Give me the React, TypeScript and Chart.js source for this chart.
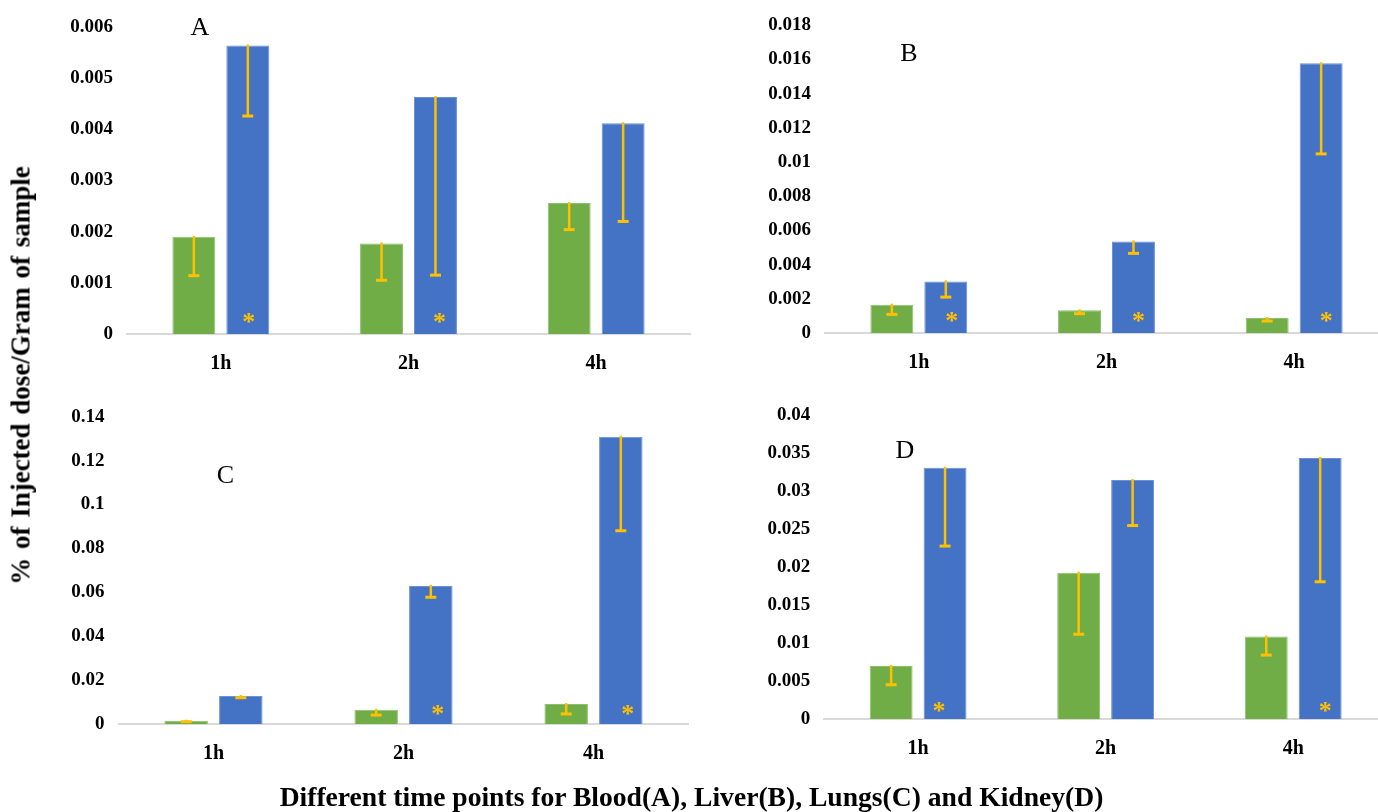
import { useEffect, useRef } from 'react';
import { Chart, registerables } from 'chart.js';

Chart.register(...registerables);

const SERIF = "'Times New Roman', 'Liberation Serif', serif";
Chart.defaults.font.family = SERIF;

// ---- data -------------------------------------------------------------
const timePoints = ['1h', '2h', '4h'];

// Blood (A)
const bloodGreen = [0.0019, 0.00177, 0.00256];
const bloodGreenErr = [0.00076, 0.00072, 0.00052];
const bloodBlue = [0.00564, 0.00463, 0.00412];
const bloodBlueErr = [0.00138, 0.00348, 0.00192];
const bloodTicks = [0, 0.001, 0.002, 0.003, 0.004, 0.005, 0.006];
const bloodStarred = ['1h', '2h'];

// Liver (B)
const liverGreen = [0.00166, 0.00133, 0.00088];
const liverGreenErr = [0.00057, 0.0002, 0.00018];
const liverBlue = [0.00302, 0.00536, 0.01578];
const liverBlueErr = [0.00092, 0.0007, 0.0053];
const liverTicks = [0, 0.002, 0.004, 0.006, 0.008, 0.01, 0.012, 0.014, 0.016, 0.018];
const liverStarred = ['1h', '2h', '4h'];

// Lungs (C)
const lungsGreen = [0.0016, 0.0066, 0.0092];
const lungsGreenErr = [0.0004, 0.0024, 0.0045];
const lungsBlue = [0.0129, 0.063, 0.1309];
const lungsBlueErr = [0.0008, 0.0052, 0.0428];
const lungsTicks = [0, 0.02, 0.04, 0.06, 0.08, 0.1, 0.12, 0.14];
const lungsStarred = ['2h', '4h'];

// Kidney (D)
const kidneyGreen = [0.007, 0.0193, 0.0109];
const kidneyGreenErr = [0.00245, 0.0081, 0.00245];
const kidneyBlue = [0.0331, 0.0315, 0.0344];
const kidneyBlueErr = [0.0103, 0.006, 0.0163];
const kidneyTicks = [0, 0.005, 0.01, 0.015, 0.02, 0.025, 0.03, 0.035, 0.04];
const kidneyStarred = ['1h', '4h'];

const GREEN = '#70AD47';
const BLUE = '#4472C4';
const ERR = '#FFC000';

// ---- layout of the four panels (canvas box + plot area, page pixels) ---
type Panel = {
  green: number[]; greenErr: number[];
  blue: number[]; blueErr: number[];
  ticks: number[]; starred: string[];
  starDx: number[]; starRise: number;
  box: { left: number; top: number; w: number; h: number };
  area: { l: number; t: number; r: number; b: number };
};

const panels: Panel[] = [
  {
    green: bloodGreen, greenErr: bloodGreenErr, blue: bloodBlue, blueErr: bloodBlueErr,
    ticks: bloodTicks, starred: bloodStarred, starDx: [1, 4], starRise: 17,
    box: { left: 0, top: 0, w: 700, h: 400 },
    area: { l: 127, t: 27, r: 690, b: 334 },
  },
  {
    green: liverGreen, greenErr: liverGreenErr, blue: liverBlue, blueErr: liverBlueErr,
    ticks: liverTicks, starred: liverStarred, starDx: [6, 5, 5], starRise: 17,
    box: { left: 700, top: 0, w: 700, h: 400 },
    area: { l: 825, t: 25, r: 1388, b: 333 },
  },
  {
    green: lungsGreen, greenErr: lungsGreenErr, blue: lungsBlue, blueErr: lungsBlueErr,
    ticks: lungsTicks, starred: lungsStarred, starDx: [7, 7], starRise: 15,
    box: { left: 0, top: 390, w: 700, h: 422 },
    area: { l: 118.5, t: 416.7, r: 688.5, b: 724.3 },
  },
  {
    green: kidneyGreen, greenErr: kidneyGreenErr, blue: kidneyBlue, blueErr: kidneyBlueErr,
    ticks: kidneyTicks, starred: kidneyStarred, starDx: [-6, 5], starRise: 13,
    box: { left: 700, top: 390, w: 700, h: 422 },
    area: { l: 824.3, t: 411.7, r: 1387, b: 719.3 },
  },
];

// Minus-only error bars from each bar top, plus significance asterisks.
const barExtras = {
  id: 'barExtras',
  afterDatasetsDraw(chart: any, _args: any, opts: any) {
    const { ctx } = chart;
    const yScale = chart.scales.y;
    chart.data.datasets.forEach((ds: any, di: number) => {
      const meta = chart.getDatasetMeta(di);
      meta.data.forEach((bar: any, i: number) => {
        const v = ds.data[i];
        const top = yScale.getPixelForValue(v);
        const low = yScale.getPixelForValue(v - ds.errors[i]);
        ctx.save();
        ctx.strokeStyle = ERR;
        ctx.lineWidth = 2.5;
        ctx.beginPath();
        ctx.moveTo(bar.x, top - 1);
        ctx.lineTo(bar.x, low);
        ctx.stroke();
        ctx.lineWidth = 3;
        ctx.beginPath();
        ctx.moveTo(bar.x - 5.5, low);
        ctx.lineTo(bar.x + 5.5, low);
        ctx.stroke();
        ctx.restore();
      });
    });
    const blueMeta = chart.getDatasetMeta(1);
    const base = yScale.getPixelForValue(0);
    ctx.save();
    ctx.fillStyle = ERR;
    ctx.font = `bold 26px ${SERIF}`;
    ctx.textAlign = 'center';
    ctx.textBaseline = 'alphabetic';
    (opts.starred as string[]).forEach((cat, k) => {
      const idx = chart.data.labels.indexOf(cat);
      const bar = blueMeta.data[idx];
      if (!bar) return;
      const cy = base - opts.starRise;
      ctx.fillText('*', bar.x + opts.starDx[k], cy + 13);
    });
    ctx.restore();
  },
};

function PanelChart({ p }: { p: Panel }) {
  const ref = useRef<HTMLCanvasElement | null>(null);
  useEffect(() => {
    if (!ref.current) return;
    const tickFont = { family: SERIF, weight: 'bold' as const };
    const chart = new Chart(ref.current, {
      type: 'bar',
      data: {
        labels: timePoints,
        datasets: [
          {
            label: 'Group 1', data: p.green, errors: p.greenErr,
            backgroundColor: GREEN, borderColor: '#8DC06C', borderWidth: 1,
            barPercentage: 0.796, categoryPercentage: 0.575,
          } as any,
          {
            label: 'Group 2', data: p.blue, errors: p.blueErr,
            backgroundColor: BLUE, borderColor: '#6B90D4', borderWidth: 1,
            barPercentage: 0.796, categoryPercentage: 0.575,
          } as any,
        ],
      },
      options: {
        responsive: false,
        animation: false,
        layout: {
          padding: {
            top: p.area.t - p.box.top,
            right: p.box.left + p.box.w - p.area.r,
            left: 0,
            bottom: 0,
          },
        },
        plugins: {
          legend: { display: false },
          tooltip: { enabled: false },
          barExtras: { starred: p.starred, starDx: p.starDx, starRise: p.starRise },
        } as any,
        scales: {
          x: {
            grid: { display: false, drawTicks: false, tickLength: 0 },
            border: { display: true, color: '#D9D9D9', width: 2 },
            ticks: { color: '#000', font: { ...tickFont, size: 20 }, padding: 18 },
            afterFit: (s: any) => { s.height = p.box.top + p.box.h - p.area.b; },
          },
          y: {
            min: 0,
            max: p.ticks[p.ticks.length - 1],
            grid: { display: false, drawTicks: false, tickLength: 0 },
            border: { display: false },
            afterBuildTicks: (s: any) => { s.ticks = p.ticks.map((v) => ({ value: v })); },
            ticks: {
              color: '#000',
              font: { ...tickFont, size: 19 },
              padding: 14,
              callback: (v: any) => String(+Number(v).toFixed(4)),
            },
            afterFit: (s: any) => { s.width = p.area.l - p.box.left; },
          },
        },
      },
      plugins: [barExtras],
    });
    return () => chart.destroy();
  }, [p]);
  return (
    <canvas
      ref={ref}
      width={p.box.w}
      height={p.box.h}
      style={{ position: 'absolute', left: p.box.left, top: p.box.top, width: p.box.w, height: p.box.h }}
    />
  );
}

// Text positioned by its baseline (line-height 1 puts the baseline at 0.8375em).
function Text({ x, baseline, size, bold, children }: { x: number; baseline: number; size: number; bold?: boolean; children: any }) {
  return (
    <div
      style={{
        position: 'absolute', left: x, top: baseline - 0.8375 * size,
        transform: 'translateX(-50%)', whiteSpace: 'nowrap', lineHeight: 1,
        fontFamily: SERIF, fontSize: size, fontWeight: bold ? 'bold' : 'normal', color: '#000',
      }}
    >
      {children}
    </div>
  );
}

export default function App() {
  const ySize = 27;
  const letter = 26;
  return (
    <div style={{ position: 'absolute', left: 0, top: 0, width: 1378, height: 812, overflow: 'hidden', background: '#fff' }}>
      {panels.map((p, i) => <PanelChart key={i} p={p} />)}
      <Text x={200} baseline={27 + 0.33 * letter} size={letter}>A</Text>
      <Text x={909} baseline={53 + 0.33 * letter} size={letter}>B</Text>
      <Text x={225.5} baseline={475 + 0.33 * letter} size={letter}>C</Text>
      <Text x={905} baseline={450 + 0.33 * letter} size={letter}>D</Text>
      <div
        style={{
          position: 'absolute', left: 20.9 - 300, top: 375.5 - ySize / 2, width: 600, textAlign: 'center',
          transform: 'rotate(-90deg)', whiteSpace: 'nowrap', lineHeight: 1,
          fontFamily: SERIF, fontSize: ySize, fontWeight: 'bold', color: '#000', wordSpacing: 2,
        }}
      >
        % of Injected dose/Gram of sample
      </div>
      <Text x={691.5} baseline={806} size={27.6} bold>
        Different time points for Blood(A), Liver(B), Lungs(C) and Kidney(D)
      </Text>
    </div>
  );
}
